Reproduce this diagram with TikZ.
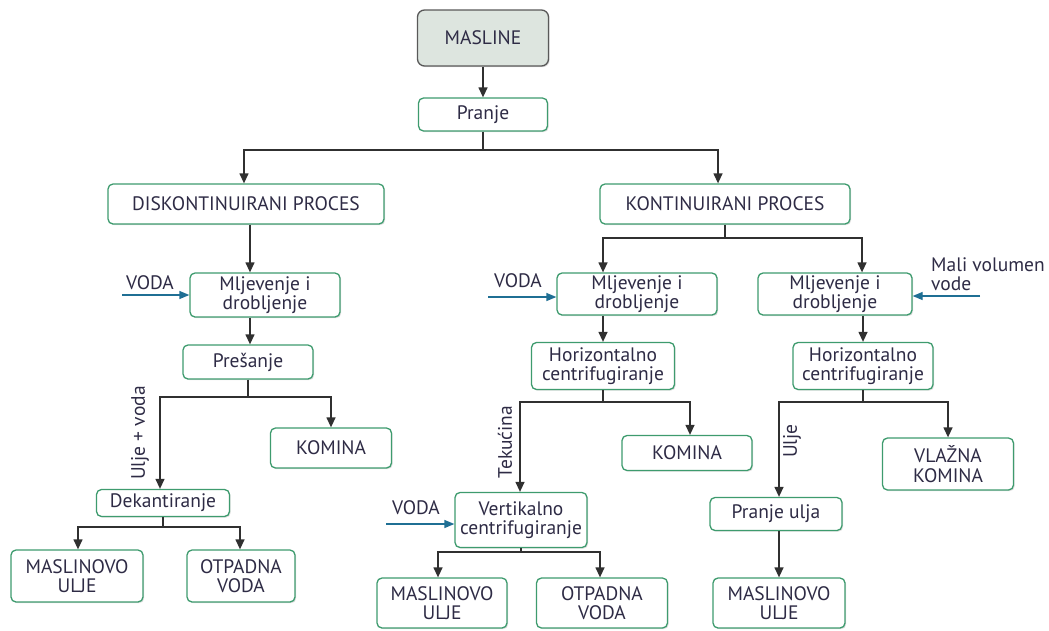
\documentclass[tikz,border=0pt]{standalone}
\usepackage{fontspec}
\setmainfont{PT Sans}
\usetikzlibrary{arrows.meta,shadows}
\definecolor{boxgreen}{HTML}{3E9B6E}
\definecolor{txt}{HTML}{2E2B45}
\definecolor{conn}{HTML}{303030}
\definecolor{bluearr}{HTML}{1F6F94}
\definecolor{topfill}{HTML}{DDE5DF}
\begin{document}
\begin{tikzpicture}[x=1pt,y=-1pt,
  font=\fontsize{19.5}{19.5}\selectfont,
  box/.style={draw=boxgreen, line width=1.3pt, rounded corners=5pt, fill=white,
    align=center, inner sep=0pt, text=txt,
    drop shadow={shadow xshift=1.2pt, shadow yshift=-1.2pt, opacity=0.25}},
  conn/.style={draw=conn, line width=1.3pt},
  arr/.style={conn, -{Triangle[length=10pt,width=9pt]}},
  barr/.style={draw=bluearr, line width=1.3pt, -{Triangle[length=10pt,width=8pt]}},
  lbl/.style={text=txt, inner sep=0pt}]
\useasboundingbox (0,0) rectangle (1049,630);
% nodes
\node[box, draw=conn!80, fill=topfill, rounded corners=7pt, minimum width=131pt, minimum height=56pt] (masline) at (483,38) {MASLINE};
\node[box, minimum width=129pt, minimum height=33pt] (pranje) at (483,114.5) {Pranje};
\node[box, minimum width=276pt, minimum height=40pt] (disk) at (246,204) {DISKONTINUIRANI PROCES};
\node[box, minimum width=250pt, minimum height=40pt] (kont) at (725,204) {KONTINUIRANI PROCES};
\node[box, minimum width=150pt, minimum height=44pt] (mlj1) at (265,295) {Mljevenje i\\drobljenje};
\node[box, minimum width=130pt, minimum height=34pt] (pres) at (248,362) {Prešanje};
\node[box, minimum width=121pt, minimum height=40pt] (kom1) at (331,448) {KOMINA};
\node[box, minimum width=133pt, minimum height=27pt] (dek) at (163,503) {Dekantiranje};
\node[box, minimum width=132pt, minimum height=52pt] (mu1) at (77,576) {MASLINOVO\\ULJE};
\node[box, minimum width=108pt, minimum height=52pt] (ov1) at (241,576) {OTPADNA\\VODA};
\node[box, minimum width=160pt, minimum height=42pt] (mlj2) at (637,294) {Mljevenje i\\drobljenje};
\node[box, minimum width=143pt, minimum height=47pt] (hc2) at (603,366) {Horizontalno\\centrifugiranje};
\node[box, minimum width=130pt, minimum height=35pt] (kom2) at (687,453) {KOMINA};
\node[box, minimum width=132pt, minimum height=55pt] (vc) at (521,520) {Vertikalno\\centrifugiranje};
\node[box, minimum width=130pt, minimum height=50pt] (mu2) at (442,603) {MASLINOVO\\ULJE};
\node[box, minimum width=131pt, minimum height=50pt] (ov2) at (602,603) {OTPADNA\\VODA};
\node[box, minimum width=154pt, minimum height=42pt] (mlj3) at (835,294) {Mljevenje i\\drobljenje};
\node[box, minimum width=140pt, minimum height=47pt] (hc3) at (863,366) {Horizontalno\\centrifugiranje};
\node[box, minimum width=131pt, minimum height=52pt] (vk) at (948,464) {VLAŽNA\\KOMINA};
\node[box, minimum width=132pt, minimum height=33pt] (pu) at (776,514) {Pranje ulja};
\node[box, minimum width=132pt, minimum height=50pt] (mu3) at (779,603) {MASLINOVO\\ULJE};
% labels
\node[lbl] (voda1) at (150,283) {VODA};
\node[lbl] (voda2) at (518,281) {VODA};
\node[lbl] (voda3) at (416,508) {VODA};
\node[lbl, align=left, anchor=west] (mali) at (931,274) {Mali volumen\\vode};
\node[lbl, rotate=90] (uv) at (140,433) {Ulje + voda};
\node[lbl, rotate=90] (tek) at (505,442) {Tekućina};
\node[lbl, rotate=90] (ulje) at (792,441) {Ulje};
% coordinates
\coordinate (j1) at (483,150);
\coordinate (j2) at (248,397);
\coordinate (j3) at (163,527);
\coordinate (j4) at (725,238);
\coordinate (j5) at (603,402);
\coordinate (j6) at (521,552);
\coordinate (j7) at (863,402);
\coordinate (w1) at (122,295);
\coordinate (w2) at (488,297);
\coordinate (w3) at (386,524);
\coordinate (w4) at (980,296);
% connectors
\draw[arr] (masline) -- (pranje);
\draw[conn] (pranje.south) -- (j1);
\draw[arr] (j1) -| ([xshift=-2pt]disk.north);
\draw[arr] (j1) -| ([xshift=-7pt]kont.north);
\draw[arr] ([xshift=4pt]disk.south) -- ([xshift=4pt]disk.south |- mlj1.north);
\draw[arr] ([xshift=2pt]pres.north |- mlj1.south) -- ([xshift=2pt]pres.north);
\draw[conn] (pres.south) -- (j2);
\draw[arr] (j2) -| ([xshift=-3pt]dek.north);
\draw[arr] (j2) -| (kom1.north);
\draw[conn] (dek.south) -- (j3);
\draw[arr] (j3) -| ([xshift=1pt]mu1.north);
\draw[arr] (j3) -| ([xshift=-1pt]ov1.north);
\draw[conn] (kont.south) -- (j4);
\draw[arr] (j4) -| ([xshift=-34pt]mlj2.north);
\draw[arr] (j4) -| ([xshift=27pt]mlj3.north);
\draw[arr] (hc2.north |- mlj2.south) -- (hc2.north);
\draw[conn] (hc2.south) -- (j5);
\draw[arr] (j5) -| ([xshift=-1pt]vc.north);
\draw[arr] (j5) -| ([xshift=3pt]kom2.north);
\draw[conn] (vc.south) -- (j6);
\draw[arr] (j6) -| ([xshift=-4pt]mu2.north);
\draw[arr] (j6) -| ([xshift=-2pt]ov2.north);
\draw[arr] (hc3.north |- mlj3.south) -- (hc3.north);
\draw[conn] (hc3.south) -- (j7);
\draw[arr] (j7) -| ([xshift=3pt]pu.north);
\draw[arr] (j7) -| (vk.north);
\draw[arr] ([xshift=3pt]pu.south) -- (mu3.north);
\draw[barr] (w1) -- (mlj1.west |- w1);
\draw[barr] (w2) -- (mlj2.west |- w2);
\draw[barr] (w3) -- (vc.west |- w3);
\draw[barr] (w4) -- (mlj3.east |- w4);
\end{tikzpicture}
\end{document}
